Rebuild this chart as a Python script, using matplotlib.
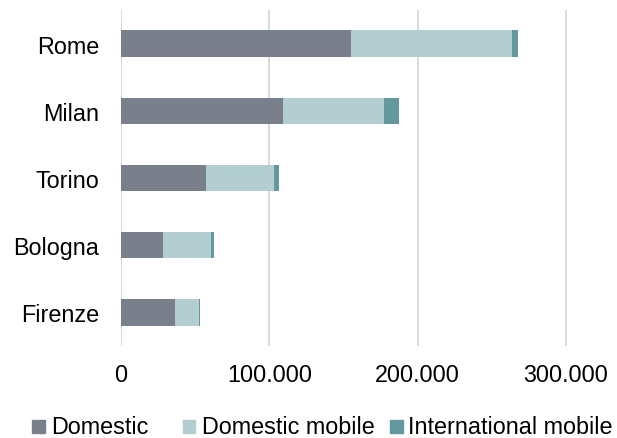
import matplotlib
matplotlib.use("Agg")
import matplotlib.pyplot as plt
from matplotlib.patches import Rectangle
from matplotlib.ticker import FuncFormatter

plt.rcParams['font.family'] = ['Liberation Sans', 'DejaVu Sans']

cities = ["Rome", "Milan", "Torino", "Bologna", "Firenze"]
domestic = [155000, 109400, 57100, 28300, 36200]
domestic_mobile = [108600, 67900, 46100, 32400, 16200]
international_mobile = [4200, 10100, 3600, 2000, 1000]
series_names = ["Domestic", "Domestic mobile", "International mobile"]
colors = ["#7a808b", "#b4cdd1", "#63989e"]
xticks = [0, 100000, 200000, 300000]

W, H = 617, 439
fig = plt.figure(figsize=(W / 100, H / 100), dpi=100)
ax = fig.add_axes([121 / W, 92 / H, 479 / W, 336 / H])

ypos = list(range(len(cities)))
left = [0] * len(cities)
for vals, col in zip([domestic, domestic_mobile, international_mobile], colors):
    ax.barh(ypos, vals, left=left, height=0.39, color=col, zorder=3)
    left = [l + v for l, v in zip(left, vals)]

ax.set_ylim(len(cities) - 0.5, -0.5)
ax.set_xlim(0, 323000)
ax.set_yticks(ypos)
ax.set_yticklabels(cities, fontsize=16.8, color="#000000")
ax.set_xticks(xticks)
ax.xaxis.set_major_formatter(FuncFormatter(lambda v, _: f"{int(v):,}".replace(",", ".")))
ax.tick_params(axis='x', labelsize=16.8, pad=12, length=0, colors="#000000")
ax.tick_params(axis='y', pad=15.8, length=0)
ax.grid(axis='x', color="#d9d9d9", linewidth=1.4, zorder=0)
for s in ax.spines.values():
    s.set_visible(False)

# legend row along the bottom edge
legend_items = [(32, 51), (183, 202), (390, 408)]
for (sq_x, tx_x), name, col in zip(legend_items, series_names, colors):
    fig.add_artist(Rectangle((sq_x / W, 5.5 / H), 12.5 / W, 12.5 / H,
                             transform=fig.transFigure, color=col))
    fig.text(tx_x / W, 5.2 / H, name, fontsize=16.8, va='baseline', ha='left',
             color="#000000")

fig.savefig("out.png", dpi=100)
